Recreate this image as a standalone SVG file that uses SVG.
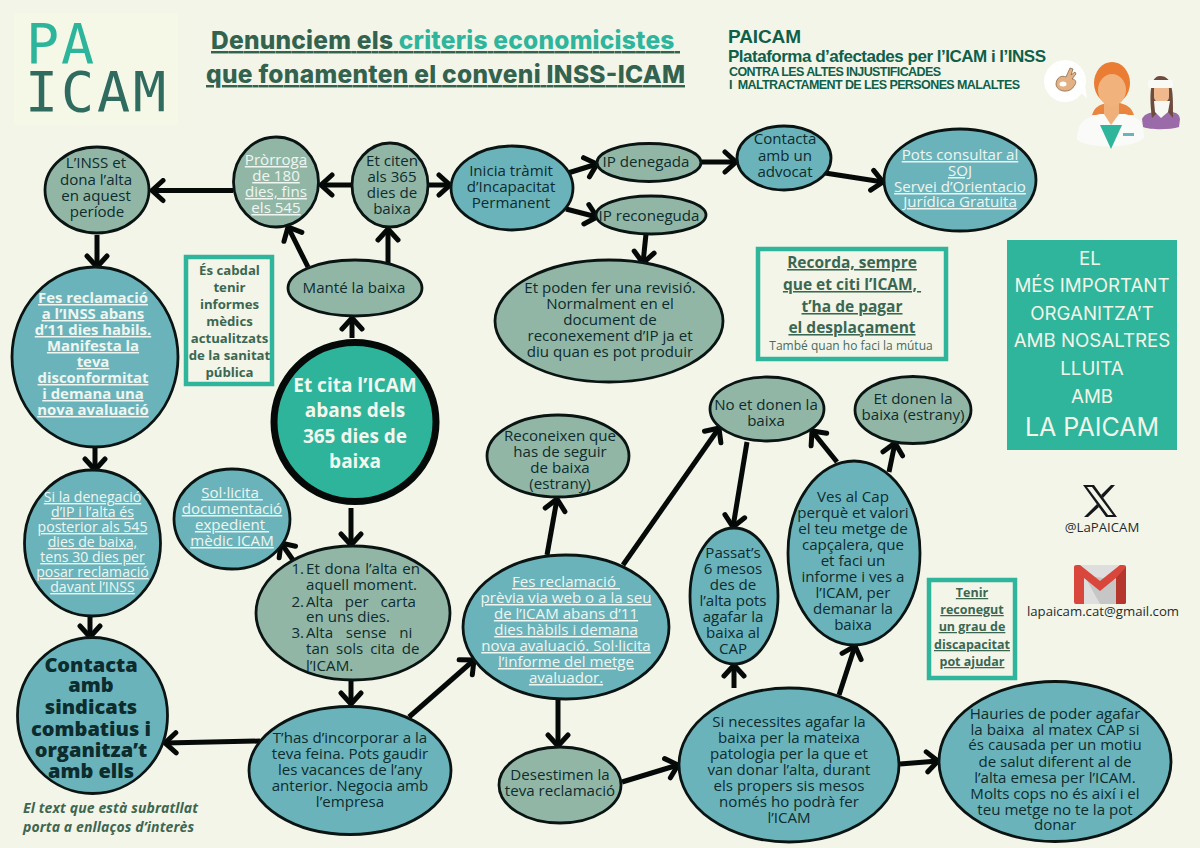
<svg xmlns="http://www.w3.org/2000/svg" width="1200" height="848" viewBox="0 0 1200 848">
<style>
text{font-family:"Open Sans","DejaVu Sans",sans-serif;font-size:15.1px;fill:#0d2c2d;text-anchor:middle;white-space:pre}
.teal{fill:#6bb3bb;stroke:#0a1412;stroke-width:2.8}
.sage{fill:#92b6a6;stroke:#0a1412;stroke-width:2.8}
.u{fill:#eef6f1;text-decoration:underline}
.ub{font-weight:700;font-size:14.9px}
.s{font-size:14.1px}
.big{font-weight:700;font-size:19px;fill:#f3f7ee}
.blk{font-weight:800;font-size:20px}
.box{fill:#f3f5e9;stroke:#2fb59c;stroke-width:4.5}
.bt{font-weight:700;fill:#3b6752}
.b1{font-size:13.2px}
.b2{font-size:15.5px;text-decoration:underline}
.b3{font-size:12.5px;text-decoration:underline}
.st{text-anchor:start}
.en{text-anchor:end}
.gt{font-family:Inter,"Liberation Sans",sans-serif;font-size:18.7px;fill:#f3f5e9}
.ttl{font-family:Inter,"Liberation Sans",sans-serif;font-weight:800;font-size:24.5px;fill:#33634f;text-anchor:start;text-decoration:underline}
.hd{font-family:"Liberation Sans",Arial,sans-serif;font-weight:700;fill:#0f5f49;text-anchor:start}
.lg{font-family:"DejaVu Sans Mono",monospace;font-size:55px;text-anchor:start}
.nt{font-size:14px;font-weight:700;font-style:italic;fill:#3e6650;text-anchor:start}
.ct{font-size:13.2px;fill:#1f2c2c}
#connectors path{fill:none;stroke:#050a08;stroke-width:5;marker-end:url(#ah)}
</style>
<defs>
<marker id="ah" markerUnits="userSpaceOnUse" markerWidth="22" markerHeight="26" refX="15" refY="13" orient="auto" viewBox="0 0 22 26">
<path d="M4 3 L15 13 L4 23" fill="none" stroke="#050a08" stroke-width="5" stroke-linecap="round" stroke-linejoin="miter"/>
</marker>
</defs>
<rect width="1200" height="848" fill="#f3f5e9"/>

<g id="logo">
<rect x="14" y="13" width="164" height="112" fill="#f5f7e7"/>
<text class="lg" x="26" y="63" style="fill:#2db59b" textLength="68">PA</text>
<text class="lg" x="25" y="111" style="fill:#2f6b5e" textLength="141">ICAM</text>
</g>

<g id="title">
<text class="ttl" x="211" y="49" textLength="469"><tspan>Denunciem els </tspan><tspan style="fill:#2fb59c">criteris economicistes </tspan></text>
<text class="ttl" x="206" y="83" textLength="479">que fonamenten el conveni INSS-ICAM</text>
</g>

<g id="header">
<text class="hd" x="728" y="43" style="font-size:19px" textLength="73">PAICAM</text>
<text class="hd" x="728" y="62" style="font-size:17px" textLength="318">Plataforma d’afectades per l’ICAM i l’INSS</text>
<text class="hd" x="729" y="76" style="font-size:12.5px" textLength="212">CONTRA LES ALTES INJUSTIFICADES</text>
<text class="hd" x="729" y="89" style="font-size:12.5px" textLength="291">I  MALTRACTAMENT DE LES PERSONES MALALTES</text>
</g>

<g id="illustration">
<path d="M1087 98 L1078 90 L1084 80 Z" fill="#fff"/>
<circle cx="1065" cy="81" r="21" fill="#fff"/>
<path d="M1056 85 C1056 77 1062 75 1066 77 L1070 68 L1073 69 L1071 75 L1075 72 L1076 74 L1072 79 C1076 79 1077 83 1074 86 C1071 93 1058 93 1056 85 Z" fill="#e3b184" stroke="#8c6a4a" stroke-width="0.8"/>
<ellipse cx="1063" cy="84" rx="3.500" ry="2.500" fill="#fff"/>
<!-- patient -->
<path d="M1142 119 C1145 113 1150 113 1154 112 L1172 112 C1176 113 1179 113 1180 119 L1179 127 C1170 130 1150 130 1143 127 Z" fill="#9a6ba8"/>
<path d="M1152 118 C1149 95 1150 76 1160 76 C1174 76 1173 95 1173 118 L1168 112 L1158 112 Z" fill="#6d4c3d"/>
<rect x="1154" y="84" width="15" height="18" rx="5" fill="#f0b98d"/>
<path d="M1154 101 L1170 101 L1168 112 L1161 118 L1155 112 Z" fill="#f7f7f4"/>
<rect x="1148" y="80" width="25" height="8" rx="2" fill="#f9f9f6"/>
<!-- doctor -->
<path d="M1092 115 C1095 106 1100 105 1106 103 L1120 103 C1126 105 1131 106 1134 115 Z" fill="#ea8540"/>
<ellipse cx="1112" cy="83" rx="18" ry="21" fill="#ea7c33"/>
<path d="M1077 140 C1077 122 1084 118 1100 114 L1125 114 C1140 118 1144 122 1144 138 C1132 149 1090 149 1077 140 Z" fill="#fafaf8"/>
<path d="M1100 125 L1122 125 L1111 149 Z" fill="#2fb59c"/>
<path d="M1104 100 L1119 100 L1119 114 L1111 125 L1104 114 Z" fill="#f0b07a"/>
<ellipse cx="1112" cy="90" rx="14" ry="16" fill="#f1b27c"/>
<rect x="1123" y="133" width="11" height="3" fill="#6bb3bb"/>
</g>

<g id="connectors">
<path d="M351 185H321"/>
<path d="M233 190.500H152"/>
<path d="M97 235V267"/>
<path d="M95 448V470"/>
<path d="M90 617V637"/>
<path d="M352 338V318"/>
<path d="M308 267L288 227"/>
<path d="M388 263V229"/>
<path d="M428 185H450"/>
<path d="M568 173L597 164"/>
<path d="M566 209L597 217"/>
<path d="M702 162H736"/>
<path d="M825 173L883 182"/>
<path d="M646 234L643 263"/>
<path d="M351 508V545"/>
<path d="M293 560L281 543"/>
<path d="M351 681V704"/>
<path d="M260 741L165 743"/>
<path d="M409 717L474 660"/>
<path d="M547 555L557 499"/>
<path d="M623 565L719 428"/>
<path d="M558 698V746"/>
<path d="M622 782L678 765"/>
<path d="M734 688V665"/>
<path d="M747 442L733 527"/>
<path d="M839 695L855 646"/>
<path d="M837 462L812 431"/>
<path d="M889 472L895 443"/>
<path d="M900 764L938 761"/>
</g>

<g id="n-inss-alta"><ellipse class="sage" cx="97" cy="190" rx="52" ry="43"/>
<text x="96" y="168">L’INSS et</text><text x="96" y="185">dona l’alta</text><text x="96" y="201">en aquest</text><text x="97" y="217">període</text></g>

<g id="n-prorroga"><ellipse class="sage" cx="276" cy="182" rx="42.500" ry="45"/>
<text class="u" x="276" y="165">Pròrroga</text><text class="u" x="276" y="181">de 180</text><text class="u" x="276" y="197">dies, fins</text><text class="u" x="276" y="213">els 545</text></g>

<g id="n-citen"><ellipse class="sage" cx="390" cy="185" rx="38" ry="42"/>
<text x="392" y="166">Et citen</text><text x="392" y="182">als 365</text><text x="392" y="198">dies de</text><text x="392" y="214">baixa</text></g>

<g id="n-mante"><ellipse class="sage" cx="355" cy="288" rx="67" ry="28"/>
<text x="354" y="293">Manté la baixa</text></g>

<g id="n-inicia"><ellipse class="teal" cx="512" cy="188" rx="61" ry="42"/>
<text x="511" y="176">Inicia tràmit</text><text x="511" y="192">d’Incapacitat</text><text x="511" y="208">Permanent</text></g>

<g id="n-denegada"><ellipse class="sage" cx="649" cy="162.500" rx="52" ry="19"/>
<text x="646" y="167">IP denegada</text></g>

<g id="n-reconeguda"><ellipse class="sage" cx="651" cy="215" rx="55" ry="19"/>
<text x="649" y="221">IP reconeguda</text></g>

<g id="n-advocat"><ellipse class="teal" cx="784" cy="158" rx="47" ry="32"/>
<text x="785" y="144">Contacta</text><text x="785" y="161">amb un</text><text x="785" y="177">advocat</text></g>

<g id="n-soj"><ellipse class="teal" cx="960" cy="180" rx="76" ry="51"/>
<text class="u" x="960" y="160">Pots consultar al</text><text class="u" x="960" y="176">SOJ</text><text class="u" x="960" y="192">Servei d’Orientacio</text><text class="u" x="960" y="207">Jurídica Gratuita</text></g>

<g id="n-revisio"><ellipse class="sage" cx="609" cy="321" rx="114" ry="61"/>
<text x="610" y="293">Et poden fer una revisió.</text><text x="610" y="309">Normalment en el</text><text x="610" y="325">document de</text><text x="610" y="341">reconexement d’IP ja et</text><text x="610" y="357">diu quan es pot produir</text></g>

<g id="n-reclamacio-inss"><ellipse class="teal" cx="95" cy="357" rx="83" ry="90"/>
<text class="u ub" x="93" y="303">Fes reclamació</text><text class="u ub" x="93" y="319">a l’INSS abans</text><text class="u ub" x="93" y="335">d’11 dies habils.</text><text class="u ub" x="93" y="351">Manifesta la</text><text class="u ub" x="93" y="367">teva</text><text class="u ub" x="93" y="383">disconformitat</text><text class="u ub" x="93" y="399">i demana una</text><text class="u ub" x="93" y="415">nova avaluació</text></g>

<g id="n-cabdal"><rect class="box" x="186" y="257" width="86" height="127"/>
<text class="bt b1" x="229.500" y="275">És cabdal</text><text class="bt b1" x="229.500" y="292">tenir</text><text class="bt b1" x="229.500" y="309">informes</text><text class="bt b1" x="229.500" y="326">mèdics</text><text class="bt b1" x="229.500" y="343">actualitzats</text><text class="bt b1" x="229.500" y="360">de la sanitat</text><text class="bt b1" x="229.500" y="377">pública</text></g>

<g id="n-cita"><ellipse cx="355" cy="422" rx="81" ry="79.500" fill="#2db49b" stroke="#050a08" stroke-width="7"/>
<text class="big" x="355" y="392">Et cita l’ICAM</text><text class="big" x="355" y="417">abans dels</text><text class="big" x="355" y="443">365 dies de</text><text class="big" x="355" y="468">baixa</text></g>

<g id="n-denegacio"><ellipse class="teal" cx="92.500" cy="543" rx="68" ry="73"/>
<text class="u s" x="92.500" y="502">Si la denegació</text><text class="u s" x="92.500" y="517">d’IP i l’alta és</text><text class="u s" x="92.500" y="532">posterior als 545</text><text class="u s" x="92.500" y="547">dies de baixa,</text><text class="u s" x="92.500" y="562">tens 30 dies per</text><text class="u s" x="92.500" y="577">posar reclamació</text><text class="u s" x="92.500" y="592">davant l’INSS</text></g>

<g id="n-sindicats"><ellipse class="teal" cx="92.500" cy="715.500" rx="75" ry="78"/>
<text class="blk" x="91" y="672">Contacta</text><text class="blk" x="91" y="692">amb</text><text class="blk" x="91" y="714">sindicats</text><text class="blk" x="91" y="736">combatius i</text><text class="blk" x="91" y="757">organitza’t</text><text class="blk" x="91" y="778">amb ells</text></g>

<g id="n-expedient"><ellipse class="teal" cx="232" cy="519" rx="58" ry="50"/>
<text class="u" x="232" y="498">Sol·licita </text><text class="u" x="232" y="514">documentació</text><text class="u" x="232" y="530">expedient </text><text class="u" x="232" y="546">mèdic ICAM</text></g>

<g id="n-alta"><ellipse class="sage" cx="353" cy="613" rx="97" ry="67"/>
<text class="en" x="304" y="574">1.</text><text class="st" x="306" y="574" style="word-spacing:0.800px">Et dona l’alta en</text>
<text class="st" x="306" y="590">aquell moment.</text>
<text class="en" x="304" y="607">2.</text><text class="st" x="306" y="607" style="word-spacing:7.800px">Alta per carta</text>
<text class="st" x="306" y="622">en uns dies.</text>
<text class="en" x="304" y="638">3.</text><text class="st" x="306" y="638" style="word-spacing:8.800px">Alta sense ni</text>
<text class="st" x="306" y="654" style="word-spacing:3px">tan sols cita de</text>
<text class="st" x="306" y="671">l’ICAM.</text></g>

<g id="n-incorporar"><ellipse class="teal" cx="350" cy="770.500" rx="101" ry="64"/>
<text x="350" y="743">T’has d’incorporar a la</text><text x="350" y="759">teva feina. Pots gaudir</text><text x="350" y="775">les vacances de l’any</text><text x="350" y="791">anterior. Negocia amb</text><text x="350" y="807">l’empresa</text></g>

<g id="n-reconeixen"><ellipse class="sage" cx="558" cy="456" rx="71" ry="41"/>
<text x="560" y="441">Reconeixen que</text><text x="560" y="457">has de seguir</text><text x="560" y="473">de baixa</text><text x="560" y="489">(estrany)</text></g>

<g id="n-prevvia"><ellipse class="teal" cx="566" cy="627" rx="103" ry="72"/>
<text class="u" x="566" y="587">Fes reclamació </text><text class="u" x="566" y="603">prèvia via web o a la seu</text><text class="u" x="566" y="619">de l’ICAM abans d’11</text><text class="u" x="566" y="635">dies hàbils i demana</text><text class="u" x="566" y="651">nova avaluació. Sol·licita</text><text class="u" x="566" y="667">l’informe del metge</text><text class="u" x="566" y="683">avaluador.</text></g>

<g id="n-desestimen"><ellipse class="sage" cx="560" cy="785" rx="61" ry="38"/>
<text x="560" y="780">Desestimen la</text><text x="560" y="796">teva reclamació</text></g>

<g id="n-nodonen"><ellipse class="sage" cx="767" cy="409" rx="57" ry="32"/>
<text x="766" y="410">No et donen la</text><text x="766" y="426">baixa</text></g>

<g id="n-passats"><ellipse class="teal" cx="734" cy="596" rx="44" ry="68"/>
<text x="733" y="558">Passat’s</text><text x="733" y="574">6 mesos</text><text x="733" y="590">des de</text><text x="733" y="606">l’alta pots</text><text x="733" y="622">agafar la</text><text x="733" y="638">baixa al</text><text x="733" y="654">CAP</text></g>

<g id="n-necessites"><ellipse class="teal" cx="789" cy="765" rx="110" ry="77"/>
<text x="789" y="727">Si necessites agafar la</text><text x="789" y="743">baixa per la mateixa</text><text x="789" y="759">patologia per la que et</text><text x="789" y="775">van donar l’alta, durant</text><text x="789" y="791">els propers sis mesos</text><text x="789" y="807">només ho podrà fer</text><text x="789" y="823">l’ICAM</text></g>

<g id="n-cap"><ellipse class="teal" cx="854" cy="553" rx="66" ry="92"/>
<text x="853" y="502">Ves al Cap</text><text x="853" y="518">perquè et valori</text><text x="853" y="534">el teu metge de</text><text x="853" y="550">capçalera, que</text><text x="853" y="566">et faci un</text><text x="853" y="582">informe i ves a</text><text x="853" y="598">l’ICAM, per</text><text x="853" y="614">demanar la</text><text x="853" y="630">baixa</text></g>

<g id="n-donen"><ellipse class="sage" cx="913" cy="410" rx="58" ry="33.500"/>
<text x="913" y="404">Et donen la</text><text x="913" y="420">baixa (estrany)</text></g>

<g id="n-hauries"><ellipse class="teal" cx="1055" cy="761.500" rx="116" ry="80"/>
<text x="1055" y="719">Hauries de poder agafar</text><text x="1055" y="735">la baixa  al matex CAP si</text><text x="1055" y="750">és causada per un motiu</text><text x="1055" y="767">de salut diferent al de</text><text x="1055" y="783">l’alta emesa per l’ICAM.</text><text x="1055" y="799">Molts cops no és així i el</text><text x="1055" y="815">teu metge no te la pot</text><text x="1055" y="830">donar</text></g>

<g id="n-recorda"><rect class="box" x="758" y="249" width="188" height="110"/>
<text class="bt b2" x="852" y="268">Recorda, sempre</text>
<text class="bt b2" x="852" y="290">que et citi l’ICAM, </text>
<text class="bt b2" x="852" y="312">t’ha de pagar</text>
<text class="bt b2" x="852" y="333">el desplaçament</text>
<text x="851" y="350" style="font-size:12px;fill:#476b5c">També quan ho faci la mútua</text></g>

<g id="n-tenir"><rect class="box" x="929" y="580" width="86" height="98"/>
<text class="bt b3" x="972" y="597">Tenir</text>
<text class="bt b3" x="972" y="614">reconegut</text>
<text class="bt b3" x="972" y="631">un grau de</text>
<text class="bt b3" x="972" y="649">discapacitat</text>
<text class="bt b3" x="972" y="666">pot ajudar</text></g>

<g id="n-important"><rect x="1007" y="240" width="170" height="210" fill="#2fb59c"/>
<text class="gt" x="1090" y="265">EL</text>
<text class="gt" x="1092" y="292">MÉS IMPORTANT</text>
<text class="gt" x="1092" y="320">ORGANITZA’T</text>
<text class="gt" x="1092" y="347">AMB NOSALTRES</text>
<text class="gt" x="1092" y="375">LLUITA</text>
<text class="gt" x="1092" y="403">AMB</text>
<text class="gt" x="1092" y="436" style="font-size:25px">LA PAICAM</text></g>

<g id="x-contact">
<path d="M1083 485 H1094 L1117 517 H1106 Z M1087 487 L1108 515 H1113 L1092 487 Z" fill="#15181a" fill-rule="evenodd"/>
<path d="M1115 485 L1103 498 L1101 495 L1111 485 Z M1097 504 L1099 507 L1088 517 H1084 Z" fill="#15181a"/>
<text class="ct" x="1102" y="532">@LaPAICAM</text>
</g>

<g id="mail-contact">
<rect x="1074" y="565" width="52" height="39" rx="2" fill="#dedede"/>
<path d="M1084 575 L1100 604 H1116 L1116 580 Z" fill="#c6c6c6"/>
<path d="M1074 567 Q1074 565 1077 565 L1080 565 L1100 581 L1120 565 L1123 565 Q1126 565 1126 567 V602 Q1126 604 1124 604 H1116 V578 L1100 591 L1084 578 V604 H1076 Q1074 604 1074 602 Z" fill="#d9473c"/>
<path d="M1116 578 L1126 567 V602 Q1126 604 1124 604 H1116 Z" fill="#b5362d"/>
<text class="ct" x="1103" y="616">lapaicam.cat@gmail.com</text>
</g>

<g id="note">
<text class="nt" x="23" y="813" textLength="175">El text que està subratllat</text>
<text class="nt" x="23" y="832" textLength="171">porta a enllaços d’interès</text>
</g>
</svg>
